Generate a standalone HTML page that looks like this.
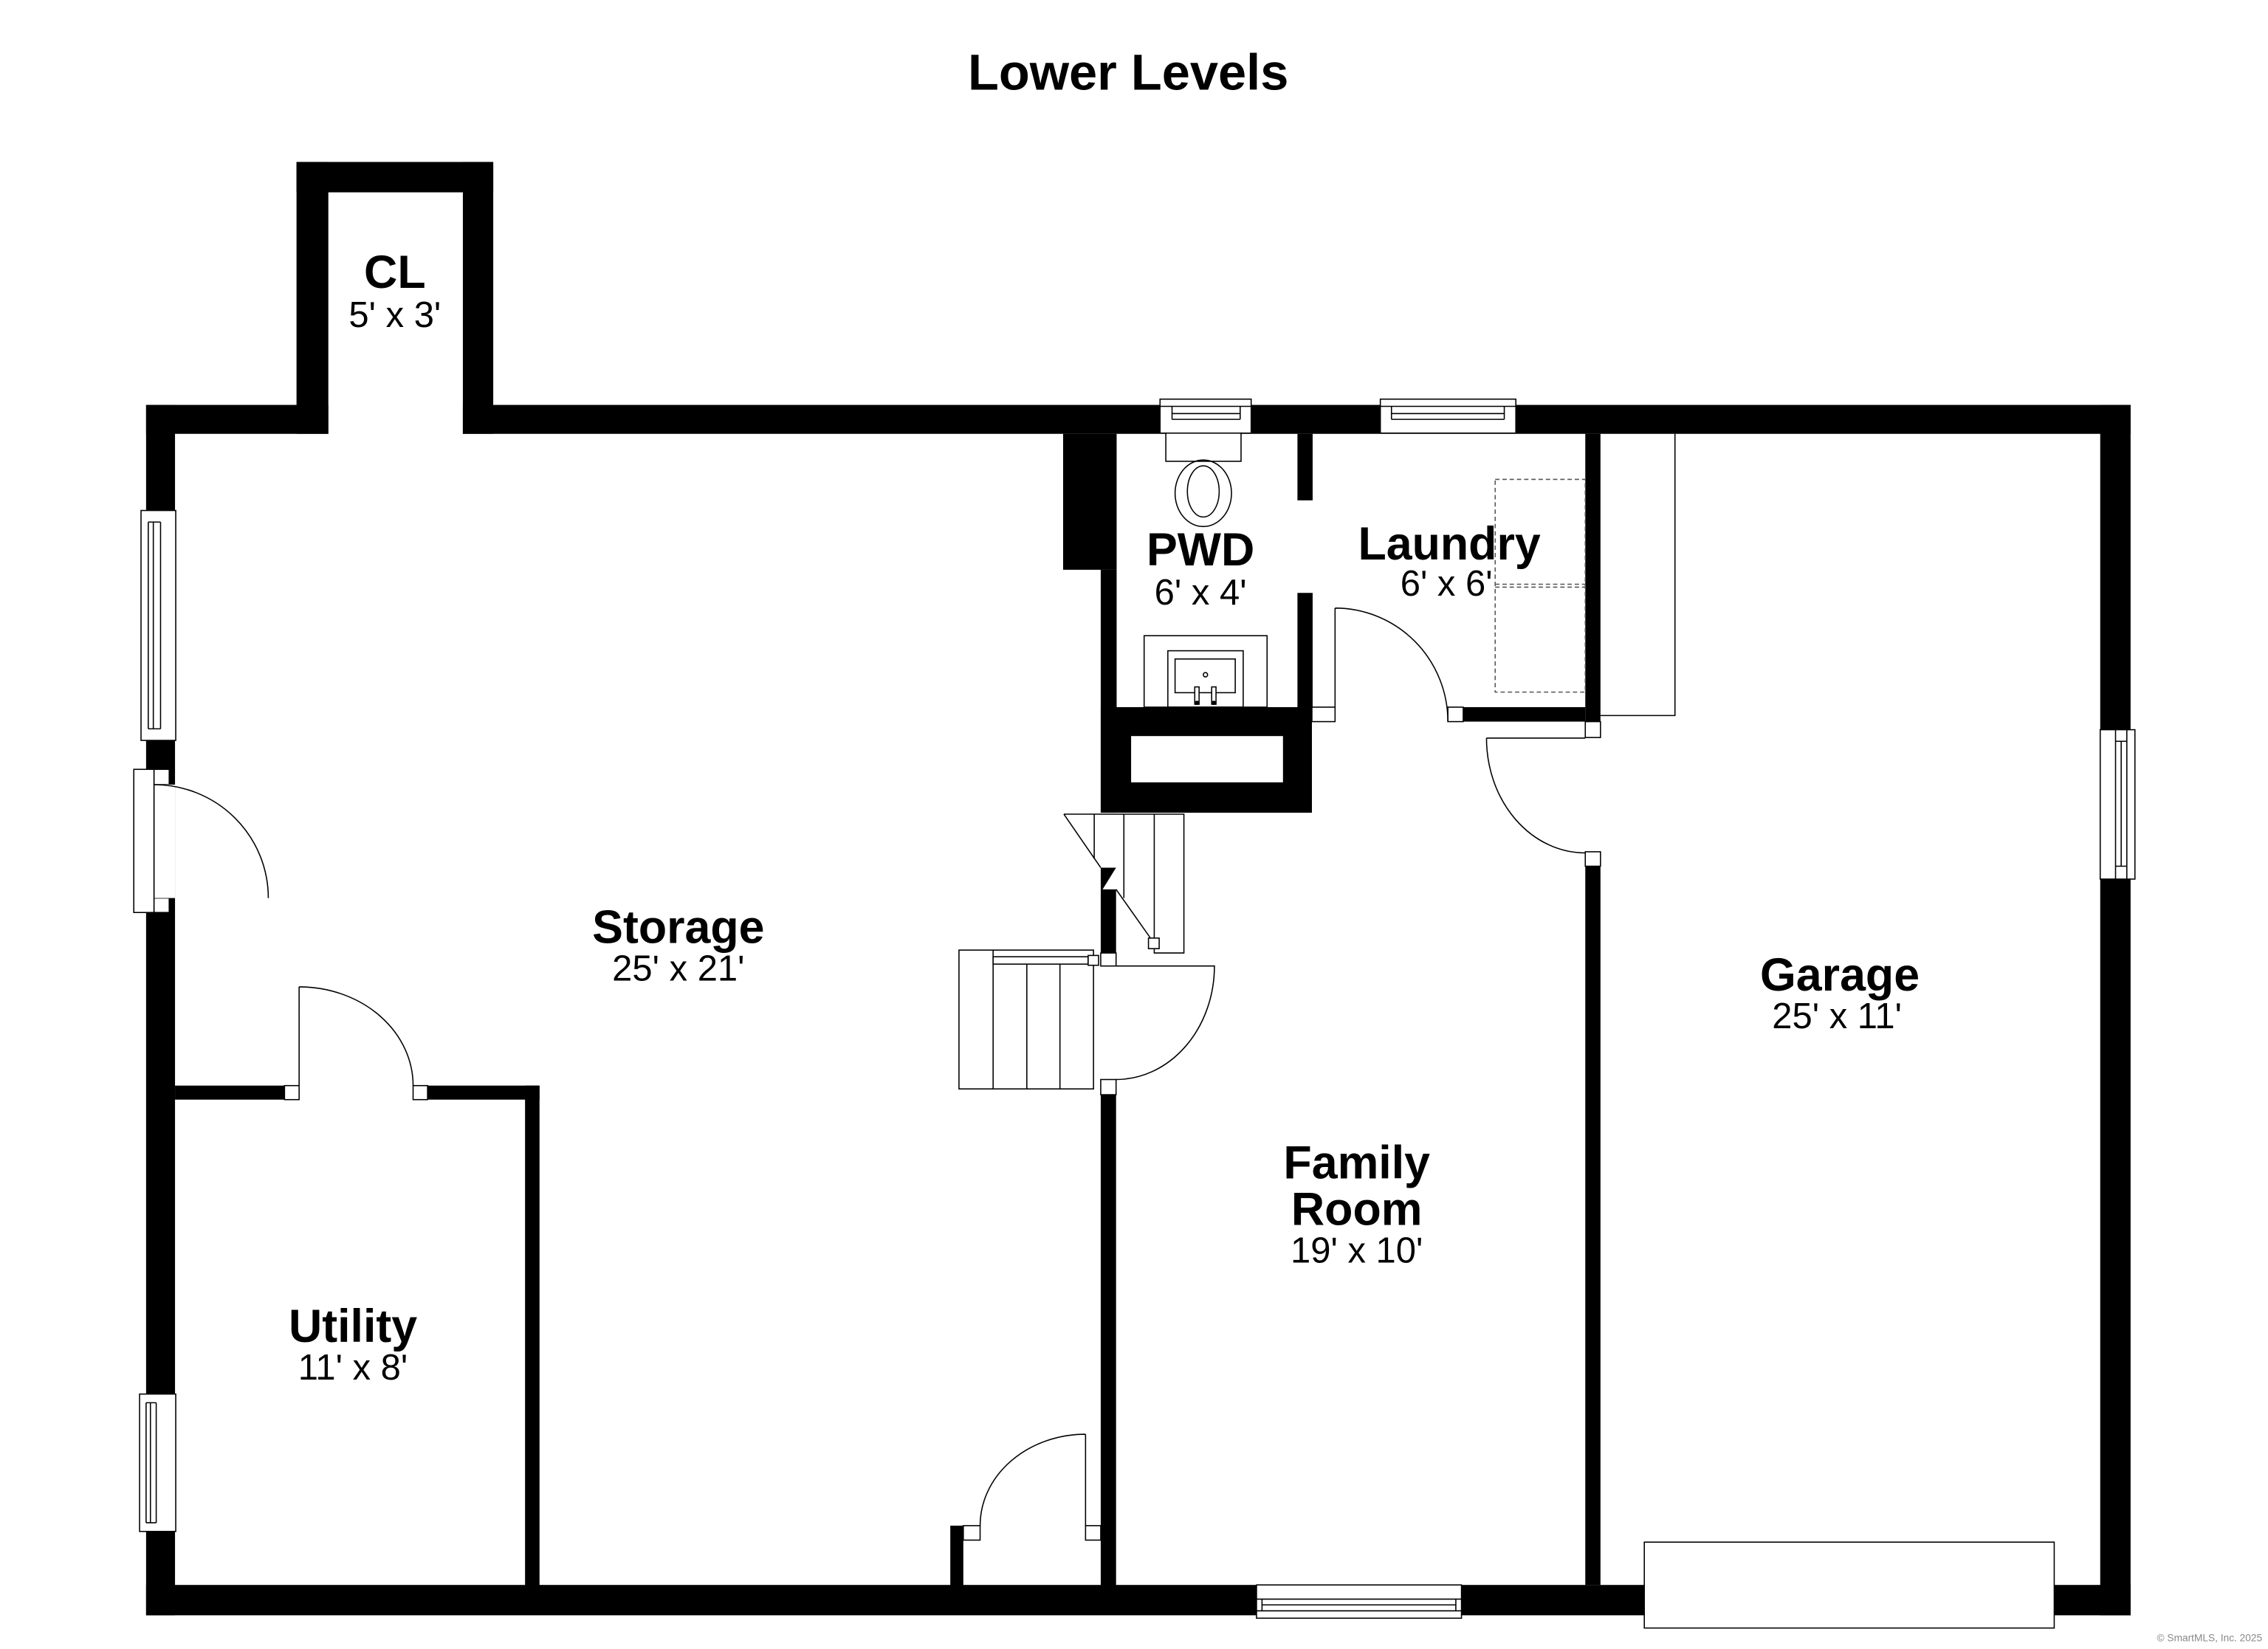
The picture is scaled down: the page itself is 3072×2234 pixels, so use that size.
<!DOCTYPE html>
<html><head><meta charset="utf-8"><style>
html,body{margin:0;padding:0;background:#fff;width:3072px;height:2234px;overflow:hidden}
svg{display:block}
text{font-family:"Liberation Sans",Arial,sans-serif;fill:#000}
.n{font-weight:bold;font-size:32px;text-anchor:middle}
.d{font-size:25px;text-anchor:middle}
.l{fill:none;stroke:#000;stroke-width:0.8}
.w{fill:#fff;stroke:#000;stroke-width:0.8}
</style></head><body>
<svg width="3072" height="2234" viewBox="0 0 1568 1140.3" preserveAspectRatio="none" xmlns="http://www.w3.org/2000/svg">
<rect width="1568" height="1141" fill="#fff"/>
<text x="780" y="62" style="font-weight:bold;font-size:35px;text-anchor:middle">Lower Levels</text>
<g fill="#000">
<!-- outer -->
<rect x="101" y="280" width="126" height="20"/>
<rect x="320" y="280" width="1153" height="20"/>
<rect x="205" y="112" width="22" height="188"/>
<rect x="320" y="112" width="21" height="188"/>
<rect x="205" y="112" width="136" height="21"/>
<rect x="101" y="280" width="20" height="837"/>
<rect x="1452" y="280" width="21" height="837"/>
<rect x="101" y="1096" width="1372" height="21"/>
<!-- interior -->
<rect x="735" y="300" width="37" height="94"/>
<rect x="761" y="394" width="11" height="168"/>
<rect x="897" y="300" width="10.5" height="46"/>
<rect x="897" y="410" width="10.5" height="79"/>
<rect x="761" y="489" width="146" height="73"/>
<rect x="1011.6" y="489" width="84.4" height="10"/>
<rect x="1096" y="300" width="10.5" height="199"/>
<rect x="1096" y="599" width="10.5" height="497"/>
<polygon points="761,600 771.6,600 762.3,615 761,615"/>
<rect x="761" y="615" width="10.6" height="44"/>
<rect x="761" y="757" width="10.6" height="340"/>
<rect x="121" y="750.7" width="75.7" height="9.7"/>
<rect x="295.6" y="750.7" width="77.4" height="9.7"/>
<rect x="363" y="750.7" width="10" height="346"/>
<rect x="657" y="1055" width="9" height="42"/>
</g>
<rect x="782" y="509" width="105" height="32" fill="#fff"/>
<!-- jambs -->
<rect class="w" x="907" y="489" width="16" height="10"/>
<rect class="w" x="1001" y="489" width="10.6" height="10"/>
<rect class="w" x="1096" y="499" width="10.5" height="11"/>
<rect class="w" x="1096" y="589" width="10.5" height="10"/>
<rect class="w" x="761" y="659" width="10.6" height="9"/>
<rect class="w" x="761" y="746.5" width="10.6" height="10.5"/>
<rect class="w" x="196.7" y="750.7" width="10.1" height="9.7"/>
<rect class="w" x="285.6" y="750.7" width="10" height="9.7"/>
<rect class="w" x="666" y="1055" width="11.6" height="10"/>
<rect class="w" x="750.5" y="1055" width="10.5" height="10"/>
<!-- doors -->
<rect class="w" x="92.5" y="532" width="14" height="99"/>
<rect class="w" x="106.5" y="532" width="10.5" height="10.6"/>
<rect class="w" x="106.5" y="621" width="10.5" height="10"/>
<rect x="106.5" y="542.6" width="14.5" height="78.4" fill="#fff"/>
<path class="l" d="M106.5 542.6 V621 M106.5 542.6 A79 78.4 0 0 1 185.5 621"/>
<path class="l" d="M206.8 682.4 V750.7 M206.8 682.4 A78.8 68.3 0 0 1 285.6 750.7"/>
<path class="l" d="M923 420.5 V489 M923 420.5 A78 78.5 0 0 1 1001 499"/>
<path class="l" d="M1027.7 510.4 H1096 M1027.7 510.4 A68.3 79.4 0 0 0 1096 589.8"/>
<path class="l" d="M771.6 668 H839.6 A68 78.5 0 0 1 771.6 746.5"/>
<path class="l" d="M750.5 991.8 V1055 M750.5 991.8 A72.9 63.2 0 0 0 677.6 1055"/>
<!-- windows -->
<rect class="w" x="97.5" y="353" width="24" height="159"/>
<path class="l" d="M102.5 361 V504 M106 361 V504 M111 361 V504 M102.5 361 H111 M102.5 504 H111"/>
<rect class="w" x="96.5" y="964" width="25" height="95"/>
<path class="l" d="M101 970 V1053 M104 970 V1053 M108 970 V1053 M101 970 H108 M101 1053 H108"/>
<rect class="w" x="802" y="276" width="63" height="23.5"/>
<path class="l" d="M802 281 H865 M810.3 286 H857.4 M810.3 290 H857.4 M810.3 281 V290 M857.4 281 V290"/>
<rect class="w" x="954.3" y="276" width="93.7" height="23.5"/>
<path class="l" d="M954.3 281 H1048 M962 286 H1040 M962 290 H1040 M962 281 V290 M1040 281 V290"/>
<rect class="w" x="1452" y="504.6" width="24" height="103.3"/>
<path class="l" d="M1462.6 504.6 V607.9 M1466.5 512.6 V599 M1470.4 504.6 V607.9 M1462.6 512.6 H1470.4 M1462.6 599 H1470.4"/>
<rect class="w" x="868.7" y="1096" width="141.7" height="23"/>
<path class="l" d="M868.7 1105.8 H1010.4 M872.5 1109.8 H1006.5 M868.7 1113.9 H1010.4 M872.5 1105.8 V1113.9 M1006.5 1105.8 V1113.9"/>
<rect class="w" x="1136.8" y="1066.4" width="283.4" height="59.4"/>
<!-- garage rect -->
<path class="l" d="M1158 300 V494.8 H1106.5"/>
<!-- laundry dashed -->
<g fill="none" stroke="#555" stroke-width="0.8" stroke-dasharray="3,2">
<rect x="1033.7" y="331.5" width="62.3" height="147.1"/>
<path d="M1033.7 404 H1096 M1033.7 406 H1096"/>
</g>
<!-- toilet -->
<rect class="w" x="806" y="299.5" width="52" height="19.5"/>
<ellipse class="l" cx="831.9" cy="341.1" rx="19.5" ry="23"/>
<ellipse class="l" cx="831.9" cy="339.8" rx="11" ry="17.7"/>
<!-- sink -->
<rect class="l" x="791" y="439.6" width="85" height="49.4"/>
<rect class="l" x="807.4" y="450" width="52.1" height="39"/>
<rect class="l" x="812.4" y="455.7" width="41.6" height="23.3"/>
<circle class="l" cx="833.4" cy="466.6" r="1.5"/>
<rect class="w" x="826" y="475" width="3" height="12"/>
<rect class="w" x="837.7" y="475" width="3" height="12"/>
<circle cx="827.5" cy="486" r="1.5"/><circle cx="839.2" cy="486" r="1.5"/>
<!-- upper stairs -->
<path class="l" d="M735.5 563 H818.5 V659 H798 V563 M777 563 V621 M756.5 563 V594 M735.5 563 L761 600 M771.6 615 L795.4 648.7"/>
<rect class="w" x="794" y="648.7" width="7.4" height="7.3"/>
<!-- lower stairs -->
<rect class="l" x="663" y="657" width="93" height="96"/>
<path class="l" d="M686.6 657 V753 M709.9 666.7 V753 M732.8 666.7 V753"/>
<rect class="w" x="686.6" y="661.6" width="65.7" height="5.1"/>
<rect class="w" x="752.3" y="660.7" width="7.2" height="6.8"/>
<!-- labels -->
<text class="n" x="273" y="199">CL</text><text class="d" x="273" y="226">5' x 3'</text>
<text class="n" x="830" y="391">PWD</text><text class="d" x="830" y="418">6' x 4'</text>
<text class="n" x="1002" y="387">Laundry</text><text class="d" x="1000" y="412">6' x 6'</text>
<text class="n" x="469" y="652">Storage</text><text class="d" x="469" y="678">25' x 21'</text>
<text class="n" x="1272" y="685">Garage</text><text class="d" x="1270" y="711">25' x 11'</text>
<text class="n" x="938" y="815">Family</text><text class="n" x="938" y="847">Room</text><text class="d" x="938" y="873">19' x 10'</text>
<text class="n" x="244" y="928">Utility</text><text class="d" x="244" y="954">11' x 8'</text>
<text x="1564" y="1135" style="font-size:7px;fill:#888;text-anchor:end">© SmartMLS, Inc. 2025</text>
</svg>
</body></html>
